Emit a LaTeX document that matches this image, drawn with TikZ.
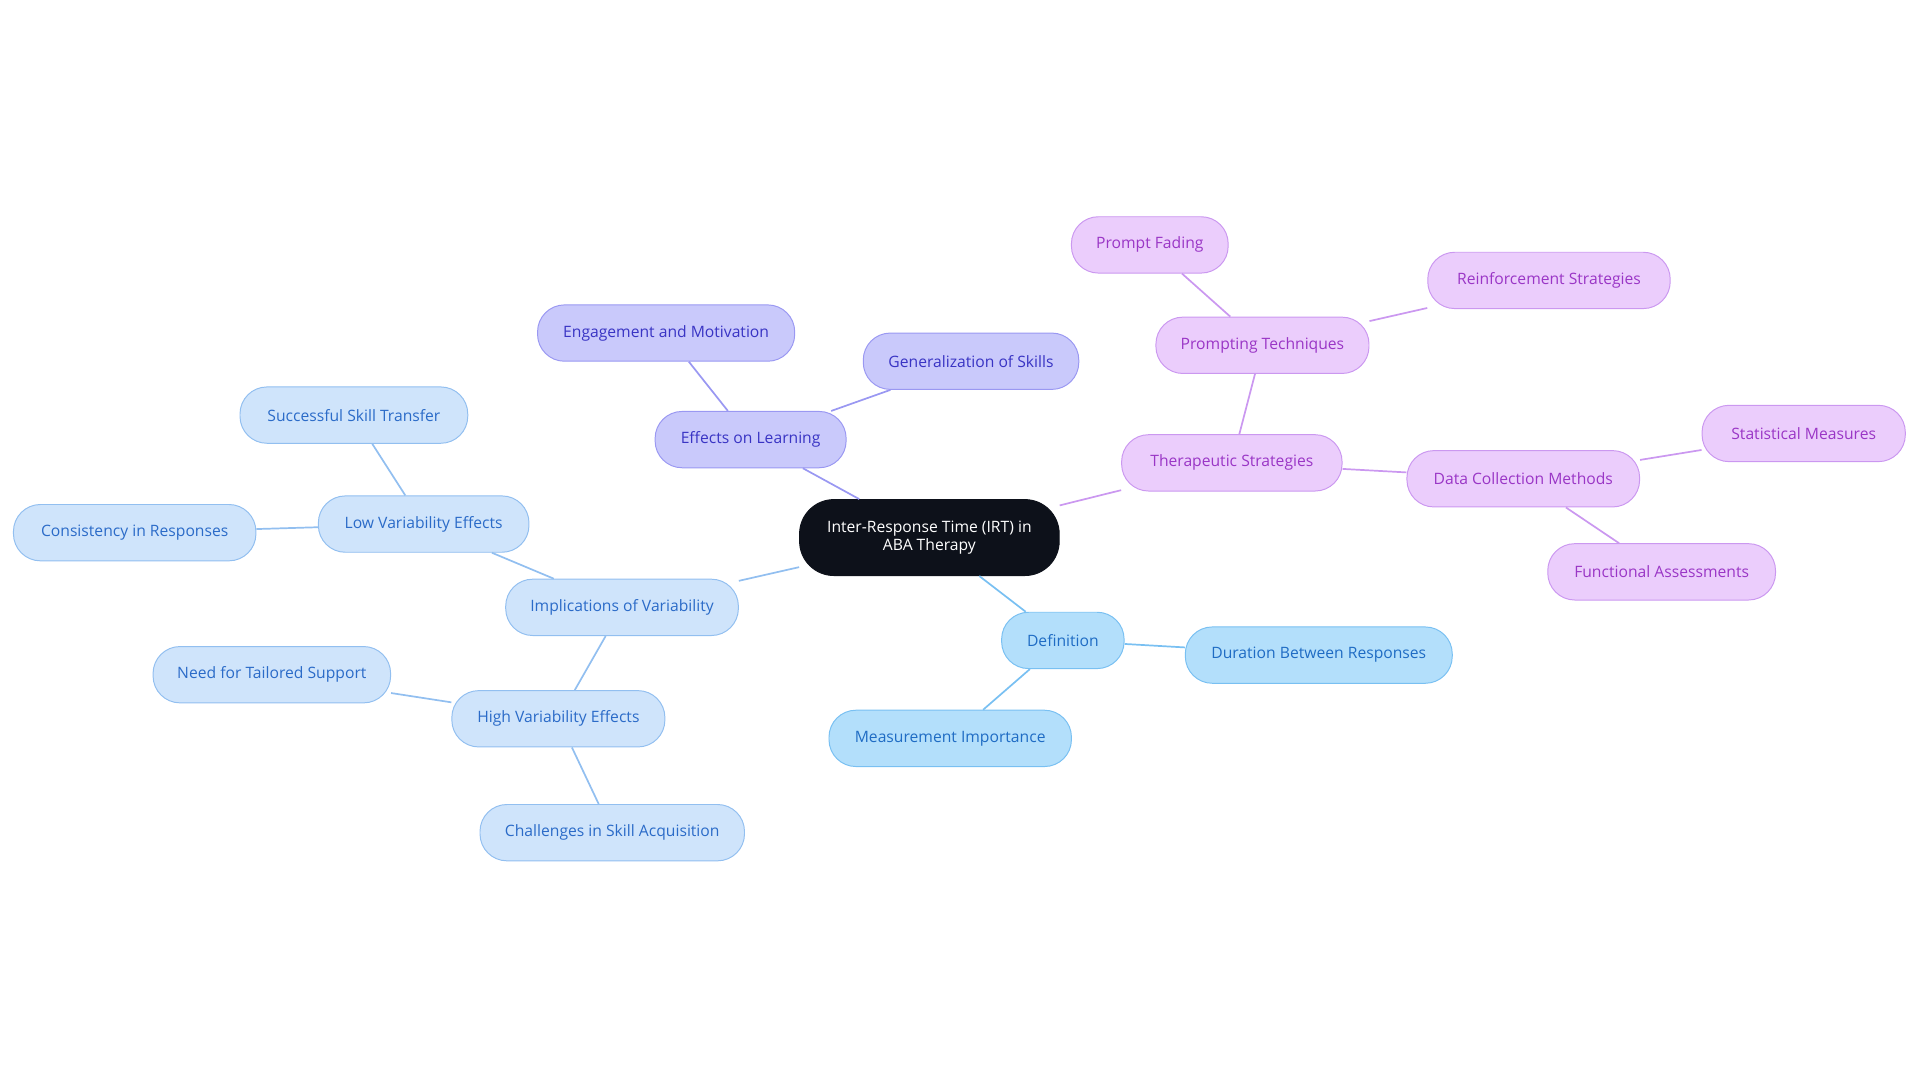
\documentclass[tikz,border=0pt]{standalone}
\usepackage{fontspec}
\setmainfont{Open Sans}
\begin{document}
\begin{tikzpicture}[x=0.5pt,y=-0.5pt,
 base/.style={draw,rounded corners=11pt,minimum height=23pt,font=\fontsize{6.4}{7.6}\selectfont,inner sep=0pt,line width=0.4pt},
 cB/.style={base,fill=cBf,draw=cBd,text=cBt},
 cL/.style={base,fill=cLf,draw=cLd,text=cLt},
 cP/.style={base,fill=cPf,draw=cPd,text=cPt},
 cV/.style={base,fill=cVf,draw=cVd,text=cVt},
 eB/.style={draw=cBd,line width=0.7pt},
 eL/.style={draw=cLd,line width=0.7pt},
 eP/.style={draw=cPd,line width=0.7pt},
 eV/.style={draw=cVd,line width=0.7pt}]
\definecolor{cBf}{HTML}{B3DFFB}\definecolor{cBd}{HTML}{79C0F2}\definecolor{cBt}{HTML}{1F6CC4}
\definecolor{cLf}{HTML}{CFE4FB}\definecolor{cLd}{HTML}{92BFF0}\definecolor{cLt}{HTML}{2B6BC8}
\definecolor{cPf}{HTML}{C9C9FB}\definecolor{cPd}{HTML}{9A98F2}\definecolor{cPt}{HTML}{3934C4}
\definecolor{cVf}{HTML}{EBCDFC}\definecolor{cVd}{HTML}{CB98F0}\definecolor{cVt}{HTML}{9A36C6}
\definecolor{cC}{HTML}{0D111A}
\useasboundingbox (0,0) rectangle (1568,884);
\node[draw=cC,fill=cC,text=white,rounded corners=14pt,minimum width=106pt,minimum height=31pt,align=center,font=\fontsize{6.4}{7.6}\selectfont,inner sep=0pt] (c) at (759,439) {Inter-Response Time (IRT) in\\ABA Therapy};
% blue
\node[cB,minimum width=50pt] (def) at (868,523) {Definition};
\node[cB,minimum width=109pt] (dur) at (1077,535) {Duration Between Responses};
\node[cB,minimum width=99pt] (mea) at (776,603) {Measurement Importance};
% light
\node[cL,minimum width=95pt] (imp) at (508,496) {Implications of Variability};
\node[cL,minimum width=86pt] (low) at (346,428) {Low Variability Effects};
\node[cL,minimum width=93pt] (suc) at (289,339) {Successful Skill Transfer};
\node[cL,minimum width=99pt] (con) at (110,435) {Consistency in Responses};
\node[cL,minimum width=87pt] (hig) at (456,587) {High Variability Effects};
\node[cL,minimum width=97pt] (nee) at (222,551) {Need for Tailored Support};
\node[cL,minimum width=108pt] (cha) at (500,680) {Challenges in Skill Acquisition};
% purple
\node[cP,minimum width=78pt] (eff) at (613,359) {Effects on Learning};
\node[cP,minimum width=105pt] (eng) at (544,272) {Engagement and Motivation};
\node[cP,minimum width=88pt] (gen) at (793,295) {Generalization of Skills};
% violet
\node[cV,minimum width=90pt] (the) at (1006,378) {Therapeutic Strategies};
\node[cV,minimum width=87pt] (pro) at (1031,282) {Prompting Techniques};
\node[cV,minimum width=64pt] (pf) at (939,200) {Prompt Fading};
\node[cV,minimum width=99pt] (rei) at (1265,229) {Reinforcement Strategies};
\node[cV,minimum width=95pt] (dat) at (1244,391) {Data Collection Methods};
\node[cV,minimum width=83pt] (sta) at (1473,354) {Statistical Measures};
\node[cV,minimum width=93pt] (fun) at (1357,467) {Functional Assessments};
\begin{scope}[on background layer/.style={}]
\end{scope}
\draw[eB] (c) -- (def); \draw[eB] (def) -- (dur); \draw[eB] (def) -- (mea);
\draw[eL] (c) -- (imp); \draw[eL] (imp) -- (low); \draw[eL] (low) -- (suc); \draw[eL] (low) -- (con);
\draw[eL] (imp) -- (hig); \draw[eL] (hig) -- (nee); \draw[eL] (hig) -- (cha);
\draw[eP] (c) -- (eff); \draw[eP] (eff) -- (eng); \draw[eP] (eff) -- (gen);
\draw[eV] (c) -- (the); \draw[eV] (the) -- (pro); \draw[eV] (pro) -- (pf); \draw[eV] (pro) -- (rei);
\draw[eV] (the) -- (dat); \draw[eV] (dat) -- (sta); \draw[eV] (dat) -- (fun);
\end{tikzpicture}
\end{document}
